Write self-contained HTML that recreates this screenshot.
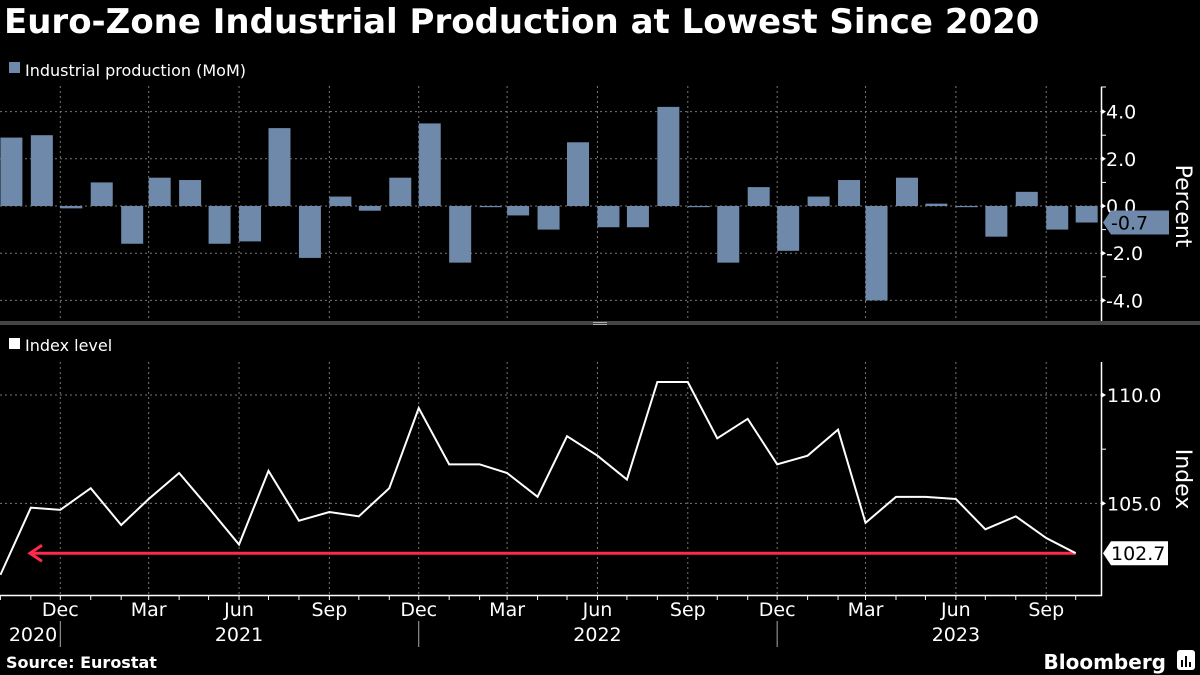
<!DOCTYPE html>
<html><head><meta charset="utf-8"><style>
body{margin:0;background:#000;width:1200px;height:675px;overflow:hidden;font-family:"DejaVu Sans","Liberation Sans",sans-serif;color:#fff}
#title{position:absolute;left:4px;top:2px;font:bold 34px "DejaVu Sans","Liberation Sans",sans-serif;letter-spacing:0;margin:0;white-space:nowrap}
</style></head><body>
<h1 id="title">Euro-Zone Industrial Production at Lowest Since 2020</h1>
<svg id="chart" width="1200" height="675" style="position:absolute;left:0;top:0"></svg>
<script>
const months = ["2020-10","2020-11","2020-12","2021-01","2021-02","2021-03","2021-04","2021-05","2021-06","2021-07","2021-08","2021-09","2021-10","2021-11","2021-12","2022-01","2022-02","2022-03","2022-04","2022-05","2022-06","2022-07","2022-08","2022-09","2022-10","2022-11","2022-12","2023-01","2023-02","2023-03","2023-04","2023-05","2023-06","2023-07","2023-08","2023-09","2023-10"];
const momValues = [2.9,3.0,-0.1,1.0,-1.6,1.2,1.1,-1.6,-1.5,3.3,-2.2,0.4,-0.2,1.2,3.5,-2.4,-0.05,-0.4,-1.0,2.7,-0.9,-0.9,4.2,-0.05,-2.4,0.8,-1.9,0.4,1.1,-4.0,1.2,0.1,-0.05,-1.3,0.6,-1.0,-0.7];
const indexValues = [101.7,104.8,104.7,105.7,104.0,105.2,106.4,104.8,103.1,106.5,104.2,104.6,104.4,105.7,109.4,106.8,106.8,106.4,105.3,108.1,107.2,106.1,110.6,110.6,108.0,108.9,106.8,107.2,108.4,104.1,105.3,105.3,105.2,103.8,104.4,103.4,102.7];
const topTicks = [4,2,0,-2,-4];
const topTickLabels = ["4.0","2.0","0.0","-2.0","-4.0"];
const botTicks = [110,105];
const botTickLabels = ["110.0","105.0"];
const quarterLabels = [["2020-12","Dec"],["2021-03","Mar"],["2021-06","Jun"],["2021-09","Sep"],["2021-12","Dec"],["2022-03","Mar"],["2022-06","Jun"],["2022-09","Sep"],["2022-12","Dec"],["2023-03","Mar"],["2023-06","Jun"],["2023-09","Sep"]];
const yearLabels = [["2020",33],["2021","2021-06"],["2022","2022-06"],["2023","2023-06"]];
const yearDividers = ["2020-12","2021-12","2022-12"];

const NS="http://www.w3.org/2000/svg";
const svg=document.getElementById('chart');
function mk(tag,attrs,parent){const e=document.createElementNS(NS,tag);for(const k in attrs)e.setAttribute(k,attrs[k]);(parent||svg).appendChild(e);return e;}
const base=Date.UTC(2020,11,1);
function x(m){const [y,mo]=m.split('-').map(Number);return 60.3+(Date.UTC(y,mo-1,1)-base)/86400000*0.982;}
function yTop(v){return 206-v*23.6;}
function yBot(v){return 395+(110-v)*21.67;}
const FONT='"DejaVu Sans","Liberation Sans",sans-serif';

let e=mk('rect',{x:9,y:62,width:11,height:11,fill:'#6f89aa'});


e=mk('text',{x:25,y:76,fill:'#fff','font-size':16,'font-family':FONT});e.textContent='Industrial production (MoM)';


e=mk('rect',{x:9,y:338,width:11,height:11,fill:'#fff'});


e=mk('text',{x:25,y:351,fill:'#fff','font-size':16,'font-family':FONT});e.textContent='Index level';



quarterLabels.forEach(q=>{
  const xx=x(q[0]);
  e=mk('line',{x1:xx,x2:xx,y1:86,y2:321,stroke:'#777','stroke-dasharray':'2,3'});
  
  
  e=mk('line',{x1:xx,x2:xx,y1:362,y2:595,stroke:'#777','stroke-dasharray':'2,3'});
  
  
});
topTicks.forEach((t,i)=>{
  const yy=yTop(t);
  e=mk('line',{x1:0,x2:1101,y1:yy,y2:yy,stroke:'#777','stroke-dasharray':'2,3'});
  
  
  mk('path',{d:`M1101 ${yy-3}L1106 ${yy}L1101 ${yy+3}Z`,fill:'#fff'});
  e=mk('text',{x:1106,y:yy+7,fill:'#fff','font-size':19,'font-family':FONT});e.textContent=topTickLabels[i];
  
  
});
[3,1,-1,-3].forEach(t=>{mk('line',{x1:1101,x2:1106,y1:yTop(t),y2:yTop(t),stroke:'#fff'});});
botTicks.forEach((t,i)=>{
  const yy=yBot(t);
  e=mk('line',{x1:0,x2:1101,y1:yy,y2:yy,stroke:'#777','stroke-dasharray':'2,3'});
  
  
  mk('path',{d:`M1101 ${yy-3}L1106 ${yy}L1101 ${yy+3}Z`,fill:'#fff'});
  e=mk('text',{x:1107,y:yy+7,fill:'#fff','font-size':19,'font-family':FONT});e.textContent=botTickLabels[i];
  
  
});
mk('line',{x1:1101,x2:1106,y1:yBot(107.5),y2:yBot(107.5),stroke:'#fff'});

e=mk('line',{x1:1101.5,x2:1101.5,y1:87,y2:321,stroke:'#fff','stroke-width':1.5});


mk('line',{x1:1101,x2:1106,y1:87,y2:87,stroke:'#fff'});
e=mk('line',{x1:1101.5,x2:1101.5,y1:362,y2:596,stroke:'#fff','stroke-width':1.5});


e=mk('line',{x1:0,x2:1102,y1:595.5,y2:595.5,stroke:'#fff','stroke-width':1.5});


e=mk('rect',{x:0,y:321,width:1200,height:4,fill:'#444'});


mk('rect',{x:593,y:322,width:14,height:1,fill:'#aaa'});
mk('rect',{x:593,y:324,width:14,height:1,fill:'#aaa'});

e=mk('text',{transform:'translate(1176,206) rotate(90)','text-anchor':'middle',fill:'#fff','font-size':22,'font-family':FONT});e.textContent='Percent';


e=mk('text',{transform:'translate(1176,479) rotate(90)','text-anchor':'middle',fill:'#fff','font-size':22,'font-family':FONT});e.textContent='Index';



momValues.forEach((v,i)=>{
  const x0=x(months[i]);
  const y0=yTop(0),y1=yTop(v);
  const b=mk('rect',{x:x0,y:Math.min(y0,y1),width:22,height:Math.max(1,Math.abs(y1-y0)),fill:'#6f89aa'});
  
  
});

months.forEach(m=>{mk('line',{x1:x(m),x2:x(m),y1:596,y2:600,stroke:'#fff'});});
quarterLabels.forEach(q=>{
  e=mk('text',{x:x(q[0]),y:616,'text-anchor':'middle',fill:'#fff','font-size':19,'font-family':FONT});e.textContent=q[1];
  
  
});
yearLabels.forEach(yl=>{
  const xx=typeof yl[1]==='number'?yl[1]:x(yl[1]);
  e=mk('text',{x:xx,y:641,'text-anchor':'middle',fill:'#fff','font-size':19,'font-family':FONT});e.textContent=yl[0];
  
  
});
yearDividers.forEach(m=>{mk('line',{x1:x(m),x2:x(m),y1:621,y2:647,stroke:'#aaa'});});

const lastV=indexValues[indexValues.length-1];
const ry=yBot(lastV), lastX=x(months[months.length-1]);
e=mk('line',{x1:30,x2:lastX,y1:ry,y2:ry,stroke:'#ff2a4b','stroke-width':3});


mk('path',{d:`M42 ${ry-8}L30 ${ry}L42 ${ry+8}`,stroke:'#ff2a4b','stroke-width':3,fill:'none'});

const pts=indexValues.map((v,i)=>x(months[i])+','+yBot(v)).join(' ');
e=mk('polyline',{points:pts,fill:'none',stroke:'#fff','stroke-width':2});



const lastMom=momValues[momValues.length-1];
const ty=yTop(lastMom);
e=mk('path',{d:`M1103 ${ty}L1111 ${ty-12}L1169 ${ty-12}L1169 ${ty+12}L1111 ${ty+12}Z`,fill:'#6f89aa'});


e=mk('text',{x:1111,y:ty+7,fill:'#000','font-size':19,'font-family':FONT});e.textContent=lastMom.toFixed(1);


e=mk('path',{d:`M1103 ${ry}L1111 ${ry-12}L1168 ${ry-12}L1168 ${ry+12}L1111 ${ry+12}Z`,fill:'#fff'});


e=mk('text',{x:1111,y:ry+7,fill:'#000','font-size':19,'font-family':FONT});e.textContent=lastV.toFixed(1);



e=mk('text',{x:6,y:668,fill:'#fff','font-size':16,'font-weight':'bold','font-family':FONT});e.textContent='Source: Eurostat';


e=mk('text',{x:1166,y:669,'text-anchor':'end',fill:'#fff','font-size':20,'font-weight':'bold','font-family':FONT});e.textContent='Bloomberg';


mk('rect',{x:1177,y:650,width:18,height:20,rx:3,fill:'#fff'});
[1181,1185,1189].forEach((bx,i)=>mk('rect',{x:bx,y:[660,656,662][i],width:2,height:[7,11,5][i],fill:'#000'}));
</script>
</body></html>
